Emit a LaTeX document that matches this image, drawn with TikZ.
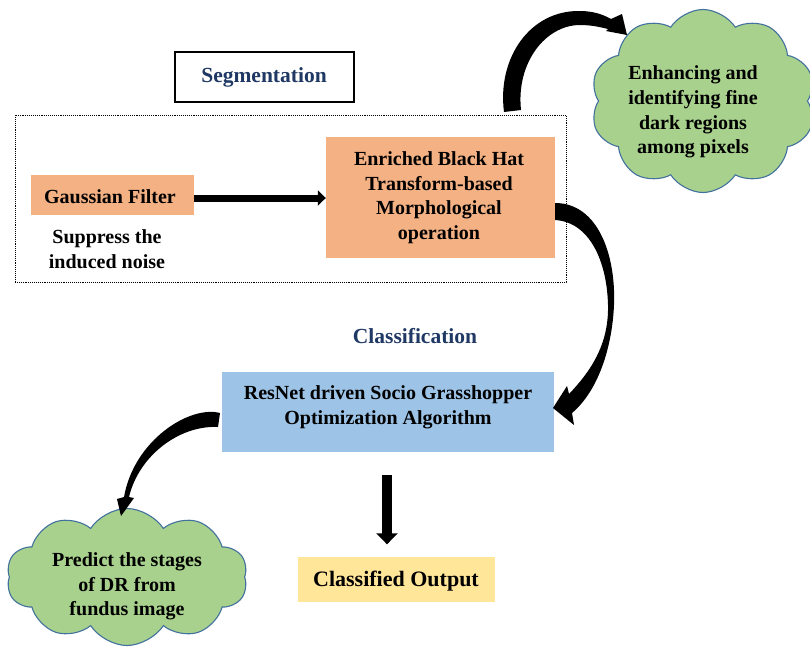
\documentclass[tikz,border=0pt]{standalone}
\usepackage{fontspec}
\setmainfont{Liberation Serif}
\usetikzlibrary{shapes.symbols,arrows.meta}
\definecolor{navy}{HTML}{1F3864}
\definecolor{orangefill}{HTML}{F4B183}
\definecolor{bluefill}{HTML}{9DC3E6}
\definecolor{yellowfill}{HTML}{FFE699}
\definecolor{greenfill}{HTML}{A9D18E}
\definecolor{cloudline}{HTML}{41719C}
\begin{document}
\begin{tikzpicture}[x=1pt,y=-1pt,
  txt/.style={font=\fontsize{20}{24.6}\selectfont\bfseries, align=center, inner sep=0pt},
  headtxt/.style={font=\fontsize{21.5}{26}\selectfont\bfseries, text=navy, inner sep=0pt},
  procbox/.style={draw=none, inner sep=0pt},
  bubble/.style={cloud, cloud puffs=10, cloud puff arc=115, cloud ignores aspect,
    draw=cloudline, fill=greenfill, line width=1.1pt, inner sep=0pt},
  bigarrow/.style={fill=black}
]
\useasboundingbox (0,0) rectangle (810,649);

% segmentation label box
\node[draw=black, line width=1.2pt, fill=white, minimum width=179pt, minimum height=50pt] (seglabel) at (264.5,77) {};
\node[headtxt] (segtext) at (264,77) {Segmentation};

% dotted frame
\node[draw=black, densely dotted, line width=0.9pt, minimum width=551pt, minimum height=167pt] (segframe) at (290.5,198.5) {};

% gaussian filter
\node[procbox, fill=orangefill, minimum width=163pt, minimum height=40pt] (gauss) at (112.5,195) {};
\node[txt] (gausstext) at (110,197) {Gaussian Filter};
\node[txt] (suppress) at (107,249) {Suppress the\\induced noise};

% enriched black hat
\node[procbox, fill=orangefill, minimum width=229pt, minimum height=121pt] (enrich) at (440.5,197.5) {};
\node[txt] (enrichtext) at (439,197.5) {Enriched Black Hat\\Transform-based\\Morphological\\operation};

\draw[line width=7pt, -{Triangle[length=8pt,width=15pt]}] ([yshift=-3pt]gauss.east) -- ([yshift=-3pt]gauss.east -| enrich.west);

% classification
\node[headtxt] (classtext) at (415,336) {Classification};
\node[procbox, fill=bluefill, minimum width=332pt, minimum height=80pt] (resnet) at (388,412) {};
\node[txt] (resnettext) at (388,407) {ResNet driven Socio Grasshopper\\Optimization Algorithm};

% classified output
\node[procbox, fill=yellowfill, minimum width=197pt, minimum height=45pt] (out) at (396,579) {};
\node[txt, font=\fontsize{22}{26}\selectfont\bfseries] (outtext) at (396,581) {Classified Output};
\draw[line width=10pt, -{Triangle[length=11pt,width=21pt]}, shorten <=23pt, shorten >=12pt]
  ([xshift=-1pt]resnet.south) -- ([xshift=-1pt]resnet.south |- out.north);

% clouds
\node[bubble, minimum width=225pt, minimum height=183pt] (cloudA) at (703,101) {};
\node[txt] (cloudAtext) at (693,112) {Enhancing and\\identifying fine\\dark regions\\among pixels};
\node[bubble, minimum width=241pt, minimum height=137pt] (cloudB) at (127,577) {};
\node[txt] (cloudBtext) at (127,586.5) {Predict the stages\\of DR from\\fundus image};

% curved arrows
\fill[bigarrow] (504,112) .. controls (497,58) and (530,10) .. (580,11)
  .. controls (594,11) and (604,15) .. (611,19) -- (622,14) -- (627,35) -- (606,31) -- (608,29)
  .. controls (600,27) and (591,25) .. (580,25)
  .. controls (546,25) and (516,62) .. (521,110) -- cycle;

\fill[bigarrow] (555,203) .. controls (598,203) and (616,255) .. (614,305)
  .. controls (612,350) and (597,392) .. (572,413) -- (574,425) -- (553,408) -- (567,386) -- (569,394)
  .. controls (590,372) and (609,345) .. (608,305)
  .. controls (607,262) and (590,222) .. (555,220) -- cycle;

\fill[bigarrow] (220,413) .. controls (190,405) and (134,440) .. (124,497)
  -- (117,499) -- (121,516) -- (134,498) -- (129,497)
  .. controls (139,455) and (180,425) .. (218,427) -- cycle;
\end{tikzpicture}
\end{document}
